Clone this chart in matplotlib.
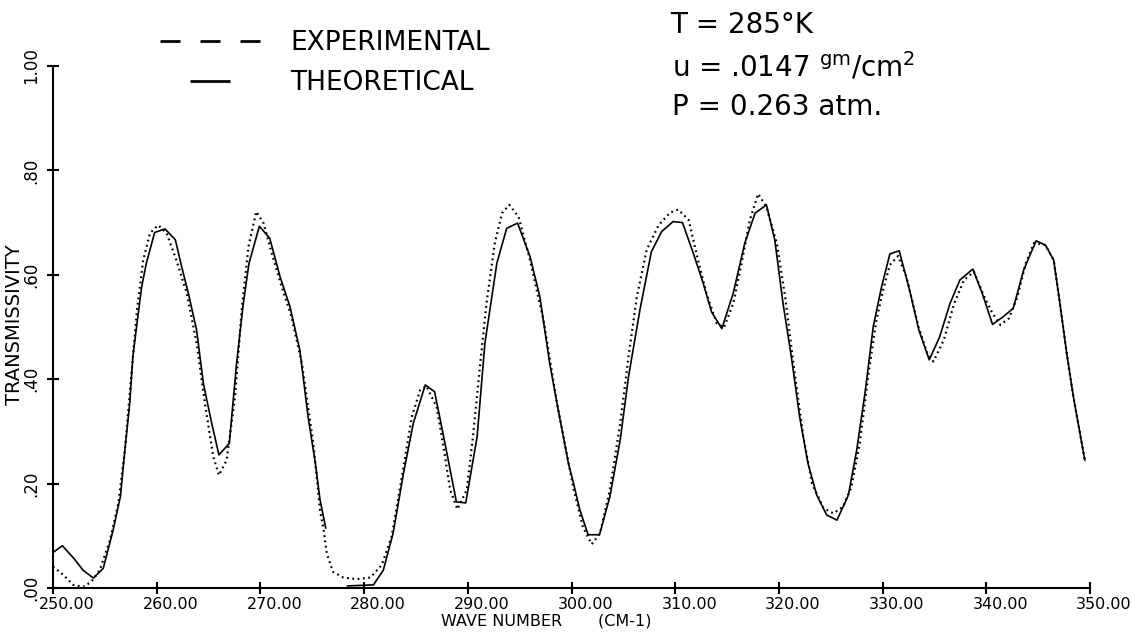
import numpy as np
import matplotlib
matplotlib.use('Agg')
import matplotlib.pyplot as plt
from matplotlib.lines import Line2D
from matplotlib.transforms import ScaledTranslation

# Theoretical curve (solid), gap near 277 cm-1
theo_wn = [250.0, 250.9, 252.0, 252.9, 253.9, 254.85, 255.8, 256.5, 256.9, 257.4,
           257.7, 258.1, 258.55, 259.0, 259.8, 260.8, 261.8, 262.4, 263.05, 263.85,
           264.5, 265.3, 266.0, 267.0, 267.7, 268.35, 268.9, 269.9, 270.9, 271.9,
           272.85, 273.8, 274.6, 275.3, 275.75, 276.3, np.nan,
           278.4, 280.9, 281.85, 282.8, 283.8, 284.75, 285.9, 286.8, 287.8, 288.9,
           289.8, 290.9, 291.65, 292.8, 293.75, 294.8, 296.0, 296.95, 297.9, 298.6,
           299.7, 300.2, 300.8, 301.6, 302.7, 303.7, 304.7, 305.5, 306.6, 307.7,
           308.7, 309.8, 310.7, 311.75, 312.7, 313.5, 314.5, 315.6, 316.7, 317.7,
           318.8, 319.6, 320.4, 321.2, 322.0, 322.8, 323.65, 324.6, 325.6, 326.7,
           327.5, 328.3, 329.1, 329.9, 330.7, 331.6, 332.6, 333.5, 334.5, 335.5,
           336.5, 337.45, 338.7, 339.6, 340.6, 341.65, 342.6, 343.6, 344.8, 345.7,
           346.5, 347.1, 347.75, 348.4, 349.5]
theo_tr = [0.068, 0.081, 0.057, 0.034, 0.019, 0.038, 0.111, 0.175, 0.258, 0.354,
           0.443, 0.507, 0.577, 0.622, 0.681, 0.688, 0.667, 0.616, 0.565, 0.494,
           0.392, 0.316, 0.255, 0.277, 0.430, 0.545, 0.622, 0.693, 0.670, 0.596,
           0.539, 0.456, 0.328, 0.239, 0.169, 0.115, np.nan,
           0.004, 0.006, 0.034, 0.105, 0.220, 0.316, 0.389, 0.376, 0.277, 0.165,
           0.163, 0.290, 0.469, 0.622, 0.689, 0.699, 0.635, 0.558, 0.430, 0.354,
           0.239, 0.200, 0.150, 0.102, 0.102, 0.175, 0.284, 0.405, 0.533, 0.644,
           0.683, 0.702, 0.700, 0.641, 0.584, 0.529, 0.497, 0.565, 0.660, 0.718,
           0.734, 0.667, 0.545, 0.443, 0.328, 0.239, 0.178, 0.140, 0.130, 0.178,
           0.264, 0.373, 0.501, 0.577, 0.640, 0.646, 0.571, 0.494, 0.437, 0.481,
           0.545, 0.590, 0.611, 0.565, 0.505, 0.520, 0.536, 0.609, 0.665, 0.657,
           0.628, 0.545, 0.450, 0.366, 0.245]

# Experimental curve (dotted)
exp_wn = [250.0, 251.0, 251.95, 252.9, 253.7, 254.5, 255.5, 256.3, 256.9, 257.6,
          258.1, 258.7, 259.35, 260.15, 260.95, 261.9, 262.9, 263.85, 264.65, 265.45,
          266.0, 266.75, 267.55, 268.2, 268.85, 269.6, 270.3, 271.1, 272.05, 273.0,
          274.0, 275.1, 275.75, 276.1, 276.4, 277.0, 278.0, 279.3, 280.6, 281.7,
          282.65, 283.6, 284.6, 285.4, 286.0, 287.0, 287.65, 288.3, 289.0, 289.9,
          290.5, 291.2, 291.8, 292.6, 293.3, 294.0, 294.9, 296.0, 297.3, 298.6,
          300.2, 301.1, 301.95, 302.75, 303.7, 304.7, 305.5, 306.3, 307.25, 308.4,
          309.5, 310.3, 311.3, 312.2, 313.0, 314.0, 314.7, 315.6, 316.4, 317.2,
          318.0, 318.8, 319.8, 320.6, 321.4, 322.35, 323.2, 324.3, 325.25, 326.2,
          327.0, 327.8, 328.6, 329.4, 330.05, 330.7, 331.5, 332.3, 333.45, 334.3,
          334.9, 335.9, 336.9, 337.85, 338.8, 339.8, 340.6, 341.35, 342.2, 343.0,
          343.8, 344.6, 345.7, 346.5, 347.1, 347.75, 348.4, 349.5]
exp_tr = [0.041, 0.025, 0.006, 0.002, 0.012, 0.034, 0.092, 0.162, 0.258, 0.418,
          0.533, 0.628, 0.680, 0.695, 0.680, 0.628, 0.565, 0.469, 0.354, 0.252,
          0.216, 0.245, 0.366, 0.533, 0.654, 0.721, 0.699, 0.641, 0.577, 0.520,
          0.430, 0.277, 0.149, 0.111, 0.066, 0.031, 0.020, 0.017, 0.020, 0.044,
          0.098, 0.207, 0.328, 0.379, 0.387, 0.347, 0.271, 0.188, 0.151, 0.188,
          0.290, 0.430, 0.545, 0.660, 0.718, 0.734, 0.711, 0.628, 0.513, 0.354,
          0.190, 0.117, 0.084, 0.105, 0.188, 0.316, 0.443, 0.558, 0.648, 0.695,
          0.719, 0.725, 0.705, 0.628, 0.565, 0.507, 0.499, 0.545, 0.622, 0.705,
          0.755, 0.730, 0.660, 0.558, 0.430, 0.290, 0.200, 0.153, 0.143, 0.156,
          0.194, 0.277, 0.405, 0.513, 0.571, 0.619, 0.636, 0.596, 0.501, 0.450,
          0.434, 0.475, 0.545, 0.590, 0.606, 0.558, 0.526, 0.504, 0.517, 0.558,
          0.622, 0.661, 0.657, 0.628, 0.545, 0.450, 0.366, 0.245]

x_ticks = [250, 260, 270, 280, 290, 300, 310, 320, 330, 340, 350]
x_labels = ['250.00', '260.00', '270.00', '280.00', '290.00', '300.00',
            '310.00', '320.00', '330.00', '340.00', '350.00']
y_ticks = [0.0, 0.2, 0.4, 0.6, 0.8, 1.0]
y_labels = ['.00', '.20', '.40', '.60', '.80', '1.00']

W, H = 1131, 634
fig = plt.figure(figsize=(W / 100, H / 100), dpi=100)
ax = fig.add_axes([53 / W, 1 - 588 / H, (1090 - 53) / W, (588 - 66) / H])

ax.plot(exp_wn, exp_tr, color='black', lw=1.6, linestyle=(0, (0.8, 1.6)))
ax.plot(theo_wn, theo_tr, color='black', lw=1.2)

ax.set_xlim(250, 350)
ax.set_ylim(0, 1)
for s in ['top', 'right']:
    ax.spines[s].set_visible(False)
for s in ['left', 'bottom']:
    ax.spines[s].set_linewidth(1.5)

ax.set_xticks(x_ticks)
ax.set_xticklabels(x_labels, fontsize=11.5)
ax.set_yticks(y_ticks)
ax.set_yticklabels(y_labels, fontsize=12, rotation=90, va='center')
ax.tick_params(direction='inout', length=8, width=1.5)
ax.tick_params(axis='x', pad=2.5)
ax.tick_params(axis='y', pad=5)
shift = ScaledTranslation(14 / 100, 0, fig.dpi_scale_trans)
for lab in ax.get_xticklabels():
    lab.set_transform(lab.get_transform() + shift)

ax.set_xlabel('WAVE NUMBER       (CM-1)', fontsize=11.5)
ax.xaxis.set_label_coords((546 - 53) / 1037, (588 - 614) / 522)
ax.set_ylabel('TRANSMISSIVITY', fontsize=14)
ax.yaxis.set_label_coords((24 - 53) / 1037, (588 - 325) / 522)

# legend
exp_handle = Line2D([], [], color='black', lw=2, linestyle=(0, (7.2, 7.2)))
theo_handle = Line2D([], [], color='black', lw=2, linestyle=(0, (0.001, 10.8, 14.4, 50)))
fig.legend([exp_handle, theo_handle], ['EXPERIMENTAL', 'THEORETICAL'],
           loc='upper left', bbox_to_anchor=(160 / W, 1 - 30 / H),
           fontsize=19, frameon=False, handlelength=3.79, handletextpad=1.14,
           labelspacing=0.54, borderpad=0, borderaxespad=0)

fig.text(670 / W, 1 - 25 / H, 'T = 285°K', fontsize=20, va='center')
fig.text(672 / W, 1 - 67 / H, 'u = .0147 $^{\\mathrm{gm}}$/cm$^{2}$', fontsize=20, va='center')
fig.text(672 / W, 1 - 107 / H, 'P = 0.263 atm.', fontsize=20, va='center')

fig.savefig('out.png', dpi=100)
